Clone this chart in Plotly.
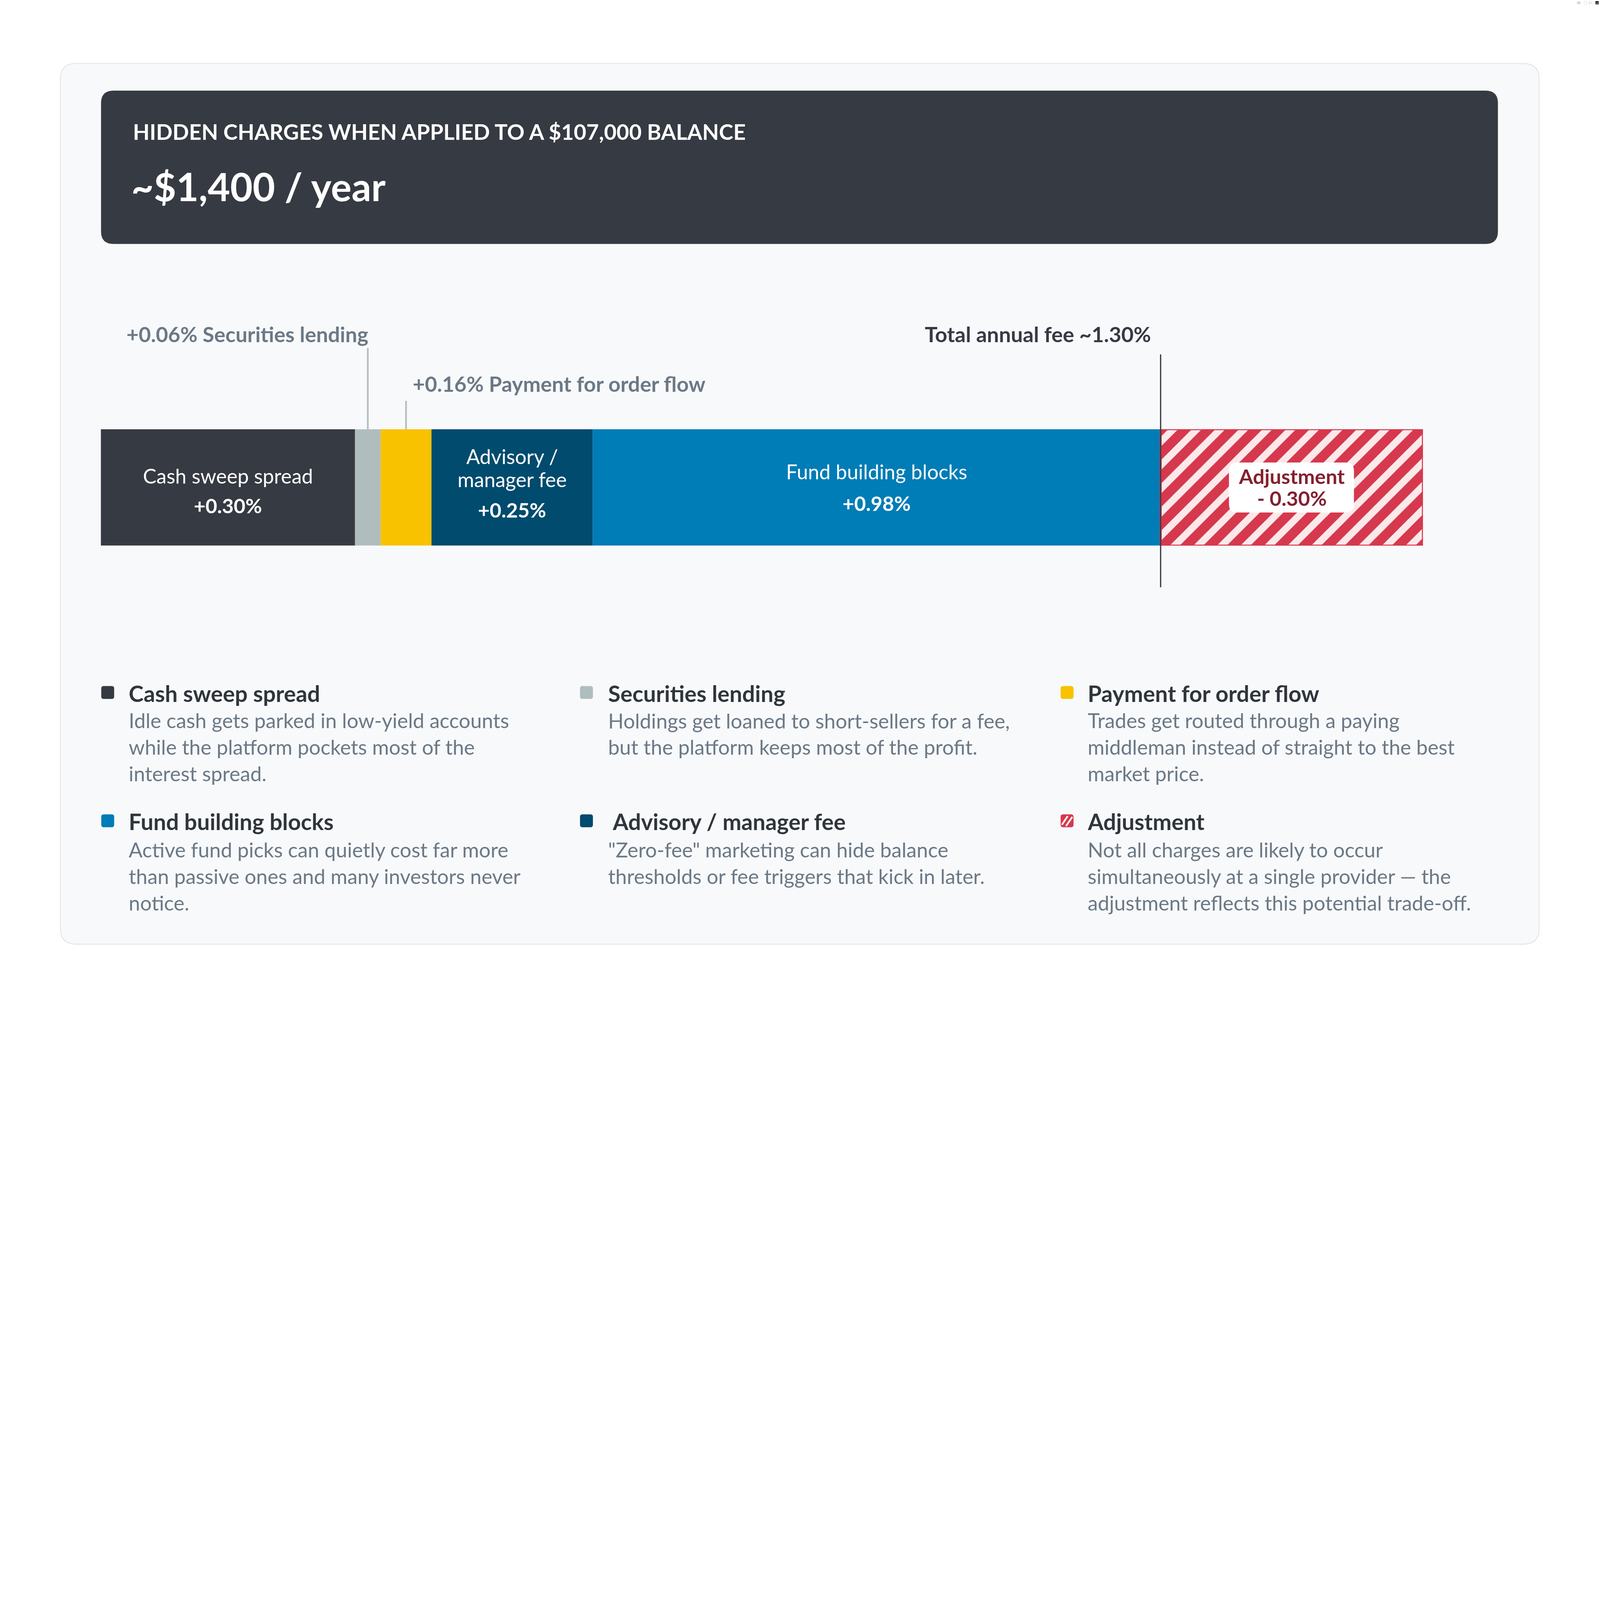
import plotly.graph_objects as go

W, H = 7680, 4840
FONT = "Lato"

# ---- data ----
segments = ["Cash sweep spread", "Securities lending", "Payment for order flow",
            "Advisory / manager fee", "Fund building blocks", "Adjustment"]
fees = [0.30, 0.06, 0.16, 0.25, 0.98, -0.30]
fee_labels = ["+0.30%", "+0.06%", "+0.16%", "+0.25%", "+0.98%", "- 0.30%"]
# drawn widths of the pieces (the picture does not draw them to scale)
widths = [1220, 123, 244, 774, 2726, 1259]
colors = ["#363a42", "#b0bdbf", "#f8c200", "#004b6e", "#007cb6", "#fbe9ea"]
hatch = ["", "", "", "", "", "/"]
total_fee_label = "Total annual fee ~1.30%"
header_small = "HIDDEN CHARGES WHEN APPLIED TO A $107,000 BALANCE"
header_big = "~$1,400 / year"

legend_order = [0, 1, 2, 4, 3, 5]
legend_titles = ["Cash sweep spread", "Securities lending", "Payment for order flow",
                 "Fund building blocks", "\u00a0Advisory / manager fee", "Adjustment"]
legend_text = [
    ["Idle cash gets parked in low-yield accounts", "while the platform pockets most of the", "interest spread."],
    ["Holdings get loaned to short-sellers for a fee,", "but the platform keeps most of the profit."],
    ["Trades get routed through a paying", "middleman instead of straight to the best", "market price."],
    ["Active fund picks can quietly cost far more", "than passive ones and many investors never", "notice."],
    ["\"Zero-fee\" marketing can hide balance", "thresholds or fee triggers that kick in later."],
    ["Not all charges are likely to occur", "simultaneously at a single provider \u2014 the", "adjustment reflects this potential trade-off."],
]

RED = "#d6384e"
DARK = "#363a42"
GREY_TXT = "#6b7986"


def px(x):
    return x / W


def py(y):
    return 1 - y / H


def rounded(x0, y0, x1, y1, r):
    pts = [("M", x0 + r, y0), ("L", x1 - r, y0), ("Q", x1, y0, x1, y0 + r),
           ("L", x1, y1 - r), ("Q", x1, y1, x1 - r, y1), ("L", x0 + r, y1),
           ("Q", x0, y1, x0, y1 - r), ("L", x0, y0 + r), ("Q", x0, y0, x0 + r, y0)]
    out = []
    for p in pts:
        cmd, vals = p[0], p[1:]
        coords = []
        for i in range(0, len(vals), 2):
            coords.append(f"{px(vals[i]):.6f},{py(vals[i + 1]):.6f}")
        out.append(cmd + " " + " ".join(coords))
    return " ".join(out) + " Z"


def box(x0, y0, x1, y1, r, fill, line=None, lw=0, layer="below"):
    return dict(type="path", xref="paper", yref="paper", path=rounded(x0, y0, x1, y1, r),
                fillcolor=fill, line=dict(color=line or fill, width=lw), layer=layer)


base = [sum(widths[:i]) for i in range(len(widths))]
mids = [b + w / 2 for b, w in zip(base, widths)]
total_x = sum(widths[:5])

solid = [i for i, h in enumerate(hatch) if not h]
striped = [i for i, h in enumerate(hatch) if h]

fig = go.Figure()
fig.add_trace(go.Bar(
    x=[widths[i] for i in solid], base=[base[i] for i in solid], y=[0] * len(solid),
    orientation="h", width=1,
    marker=dict(color=[colors[i] for i in solid], line=dict(width=0)),
    hoverinfo="skip", showlegend=False,
))
for i in striped:
    fig.add_trace(go.Bar(
        x=[widths[i]], base=[base[i]], y=[0], orientation="h", width=1,
        marker=dict(
            color=colors[i],
            line=dict(color=RED, width=10),
            pattern=dict(shape=hatch[i], fillmode="replace", fgcolor=RED, bgcolor=colors[i],
                         fgopacity=1, size=80, solidity=0.58),
        ),
        hoverinfo="skip", showlegend=False,
    ))

shapes = [
    box(290, 305, 7388, 4532, 75, "#f8f9fb", "#e2e4e8", 4),
    box(485, 435, 7190, 1171, 60, DARK),
]

# total line and leader lines
shapes.append(dict(type="line", xref="x", yref="paper", x0=total_x, x1=total_x,
                   y0=py(1701), y1=py(2819), line=dict(color=DARK, width=6)))
shapes.append(dict(type="line", xref="x", yref="paper", x0=mids[1], x1=mids[1],
                   y0=py(1670), y1=py(2060), line=dict(color="#b0bdbf", width=8)))
shapes.append(dict(type="line", xref="x", yref="paper", x0=mids[2], x1=mids[2],
                   y0=py(1924), y1=py(2060), line=dict(color="#b0bdbf", width=8)))
# label box on the adjustment piece
shapes.append(box(5899, 2220, 6499, 2460, 40, "#ffffff", layer="above"))

ann = []


def txt(x, y, text, size, color, xanchor="left", xref="paper", xshift=0):
    ann.append(dict(x=px(x) if xref == "paper" else x, y=py(y), xref=xref, yref="paper",
                    text=text, showarrow=False, xanchor=xanchor, yanchor="middle",
                    align=xanchor if xanchor != "center" else "center", xshift=xshift,
                    font=dict(family=FONT, size=size, color=color)))


# header
txt(636, 630, f"<b>{header_small}</b>", 104, "white")
txt(628, 893, f"<b>{header_big}</b>", 186, "white")

# labels above the bar
txt(mids[1], 1603, f"<b>{fee_labels[1]} {segments[1]}</b>", 101, GREY_TXT, "right", "x", 4)
txt(mids[2], 1842, f"<b>{fee_labels[2]} {segments[2]}</b>", 101, GREY_TXT, "left", "x", 30)
txt(total_x, 1603, f"<b>{total_fee_label}</b>", 102, DARK, "right", "x", -44)

# labels inside the bar
txt(mids[0], 2283, segments[0], 97, "white", "center", "x")
txt(mids[0], 2425, f"<b>{fee_labels[0]}</b>", 97, "white", "center", "x")
txt(mids[3], 2190, "Advisory /", 97, "white", "center", "x")
txt(mids[3], 2300, "manager fee", 97, "white", "center", "x")
txt(mids[3], 2447, f"<b>{fee_labels[3]}</b>", 97, "white", "center", "x")
txt(mids[4], 2262, segments[4], 97, "white", "center", "x")
txt(mids[4], 2414, f"<b>{fee_labels[4]}</b>", 97, "white", "center", "x")
txt(mids[5], 2286, f"<b>{segments[5]}</b>", 98, "#84202f", "center", "x")
txt(mids[5], 2391, f"<b>{fee_labels[5]}</b>", 98, "#84202f", "center", "x")

# legend grid
col_text_x = [616, 2917, 5219]
col_sq_x = [486, 2784, 5091]
row_sq_y = [3293, 3909]
row_title_y = [3327, 3942]
row_desc_top = [3458, 4078]
step = 127
for k, idx in enumerate(legend_order):
    r, c = divmod(k, 3)
    sx, sy = col_sq_x[c], row_sq_y[r]
    if hatch[idx]:
        shapes.append(box(sx, sy, sx + 62, sy + 62, 12, RED, layer="above"))
        shapes.append(dict(type="line", xref="paper", yref="paper",
                           x0=px(sx + 6), y0=py(sy + 50), x1=px(sx + 34), y1=py(sy + 8),
                           line=dict(color="white", width=8)))
        shapes.append(dict(type="line", xref="paper", yref="paper",
                           x0=px(sx + 26), y0=py(sy + 56), x1=px(sx + 56), y1=py(sy + 12),
                           line=dict(color="white", width=8)))
    else:
        shapes.append(box(sx, sy, sx + 62, sy + 62, 12, colors[idx], layer="above"))
    txt(col_text_x[c], row_title_y[r], f"<b>{legend_titles[k]}</b>", 108, "#30353c")
    lines = legend_text[k]
    yc = row_desc_top[r] + step * (len(lines) - 1) / 2
    txt(col_text_x[c], yc, "<br>".join(lines), 98, GREY_TXT)

fig.update_layout(
    width=W, height=H, margin=dict(l=0, r=0, t=0, b=0),
    paper_bgcolor="white", plot_bgcolor="rgba(0,0,0,0)",
    barmode="overlay",
    xaxis=dict(domain=[px(484), px(6830)], range=[0, sum(widths)], visible=False, fixedrange=True),
    yaxis=dict(domain=[py(2619), py(2060)], range=[-0.5, 0.5], visible=False, fixedrange=True),
    shapes=shapes, annotations=ann, showlegend=False,
)

# fit the 7680x4840 layout into whatever css viewport the window gives
fit_js = """
document.body.style.margin = '0';
document.body.style.overflow = 'hidden';
var gd = document.getElementById('{plot_id}');
var s = Math.min(window.innerWidth / %d, window.innerHeight / %d);
gd.style.transformOrigin = '0 0';
gd.style.transform = 'scale(' + s + ')';
""" % (W, H)

fig.write_html("out.html", post_script=fit_js)
